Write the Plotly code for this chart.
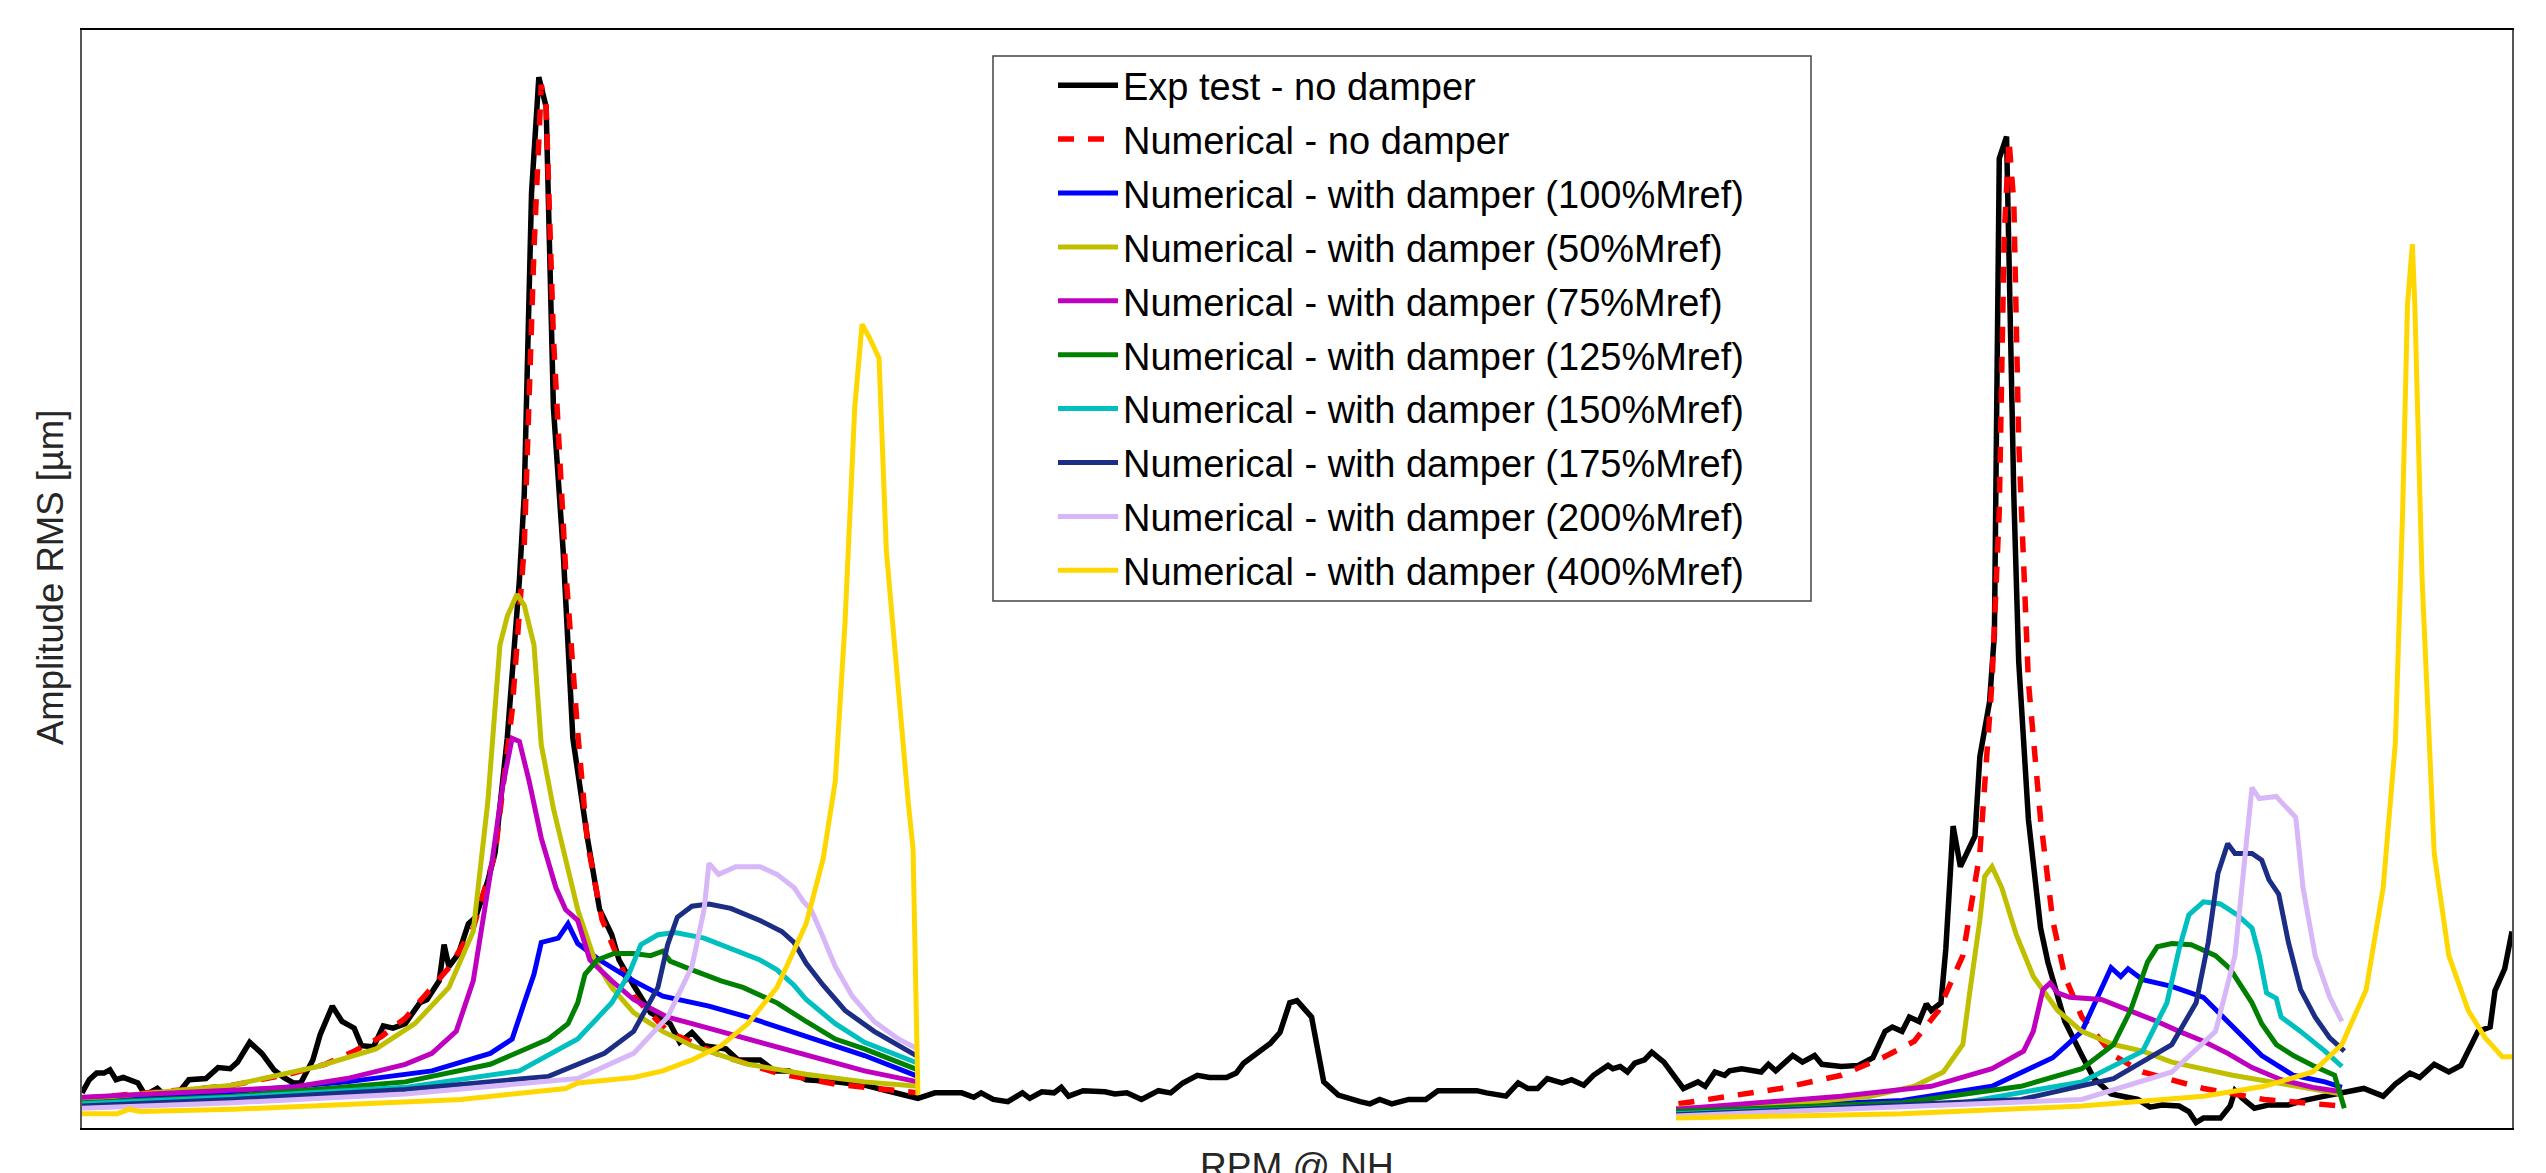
import plotly.graph_objects as go

# ---------------- data (arbitrary RPM units 0-100, amplitude units 0-100) ----------------
exp_x = [0, 0.3, 0.6, 0.9, 1.15, 1.4, 1.7, 2.1, 2.3, 2.6, 3.1, 3.3, 3.9, 4.4, 5.1, 5.6, 6.1, 6.4, 6.9,
         7.4, 7.9, 8.3, 8.7, 9.0, 9.5, 9.8, 10.3, 10.7, 11.2, 11.5, 12.0, 12.4, 12.8, 13.3, 13.9, 14.2,
         14.7, 14.9, 15.1, 15.5, 15.9, 16.2, 16.7, 17.0, 17.5, 18.0, 18.2, 18.5, 18.8, 19.1, 19.4, 19.8,
         20.2, 20.8, 21.3, 21.8, 22.1, 22.7, 23.4, 24.2, 24.6, 25.1, 25.6, 26.5, 27.0, 27.9, 28.5, 29.1,
         29.8, 31.0, 32.2, 33.3, 34.4, 35.1, 36.2, 36.7, 37.0, 37.5, 38.1, 38.7, 39.0, 39.5, 40.0, 40.3,
         40.6, 41.2, 42.1, 42.5, 43.0, 43.6, 44.3, 44.8, 45.3, 45.9, 46.4, 47.1, 47.5, 47.8, 48.4, 48.9,
         49.3, 49.7, 50.0, 50.6, 51.1, 51.7, 52.6, 53.0, 53.4, 53.9, 54.6, 55.3, 55.8, 56.7, 57.4, 57.8,
         58.6, 59.1, 59.5, 59.9, 60.3, 60.9, 61.3, 61.8, 62.2, 62.8, 63.0, 63.3, 63.6, 63.9, 64.3, 64.6,
         65.1, 65.9, 66.5, 66.8, 67.2, 67.6, 67.8, 68.3, 69.1, 69.4, 69.7, 70.4, 70.8, 71.3, 71.6, 72.4,
         73.1, 73.7, 74.2, 74.5, 74.9, 75.2, 75.6, 75.9, 76.1, 76.5, 76.7, 77.0, 77.3, 77.9, 78.1, 78.5,
         78.7, 78.9, 79.2, 79.5, 79.7, 80.1, 80.6, 80.9, 81.6, 82.3, 82.8, 83.5, 84.6, 85.1, 85.6, 86.3,
         86.7, 87.0, 87.3, 88.0, 88.4, 88.6, 88.9, 89.4, 90.0, 90.8, 91.4, 92.3, 93.1, 93.9, 94.7, 95.2,
         95.8, 96.2, 96.8, 97.4, 97.9, 98.6, 99.1, 99.3, 99.7, 100]
exp_y = [3.2, 4.4, 5.0, 5.0, 5.3, 4.4, 4.6, 4.2, 4.1, 3.0, 3.6, 3.2, 3.0, 4.4, 4.5, 5.5, 5.4, 6.0, 7.8,
         6.8, 5.3, 4.6, 4.1, 4.1, 6.2, 8.5, 11.1, 9.7, 9.1, 7.5, 7.4, 9.3, 9.1, 9.5, 11.4, 11.7,
         13.4, 16.7, 14.7, 15.9, 18.6, 19.2, 22.5, 25.1, 35.5, 49.9, 57.7, 85.2, 95.7, 93.0, 65.6, 52.6,
         35.5, 26.4, 19.9, 17.6, 15.3, 13.0, 10.5, 9.5, 7.8, 8.7, 7.5, 7.2, 6.2, 6.2, 5.2, 5.2,
         4.4, 4.2, 3.9, 3.3, 2.7, 3.2, 3.2, 2.8, 3.2, 2.6, 2.4, 3.2, 2.7, 3.3, 3.2, 3.7,
         2.9, 3.4, 3.3, 3.1, 3.2, 2.6, 3.4, 3.2, 4.1, 4.8, 4.6, 4.6, 5.0, 5.9, 6.9, 7.7,
         8.7, 11.4, 11.6, 10.1, 4.2, 3.0, 2.4, 2.2, 2.6, 2.2, 2.6, 2.6, 3.4, 3.4, 3.4, 3.2,
         2.9, 4.1, 3.6, 3.6, 4.5, 4.1, 4.4, 3.9, 4.8, 5.7, 5.4, 5.6, 5.1, 5.9, 6.2, 6.9,
         6.0, 3.6, 4.2, 3.8, 5.1, 4.8, 5.2, 5.4, 5.1, 5.8, 5.2, 6.6, 6.0, 6.6, 5.8, 5.6,
         5.7, 6.4, 8.8, 9.2, 8.8, 10.1, 9.7, 11.3, 10.7, 11.4, 16.3, 27.5, 23.8, 26.6, 33.8, 38.8,
         45.0, 88.3, 90.3, 57.5, 42.5, 28.1, 18.2, 15.1, 9.7, 6.6, 4.5, 3.1, 2.6, 1.9, 2.1, 2.0,
         1.5, 0.5, 0.9, 0.9, 2.0, 3.4, 2.7, 1.8, 2.1, 2.1, 2.5, 2.9, 3.3, 3.6, 2.9, 4.0,
         5.0, 4.6, 5.8, 5.1, 5.7, 8.8, 9.2, 12.5, 14.5, 17.9]

num_x = [0, 0.6, 2.1, 3.5, 4.9, 6.2, 7.4, 8.7, 10.0, 11.2, 12.3, 13.3, 14.2, 15.1, 16.1, 17.0, 17.7,
         18.2, 18.6, 18.9, 19.1, 19.4, 19.9, 20.4, 20.8, 21.4, 22.7, 24.1, 26.3, 28.6, 31.0, 34.4, None,
         65.7, 69.9, 72.4, 74.1, 75.4, 76.4, 77.4, 78.1, 78.6, 78.9, 79.1, 79.3, 79.5, 79.7, 80.1, 80.6,
         81.1, 81.6, 82.3, 83.6, 84.8, 87.3, 89.8, 93.0]
num_y = [2.6, 2.8, 3.1, 3.3, 3.6, 3.9, 4.4, 5.0, 5.8, 7.0, 8.3, 10.0, 12.3, 14.6, 18.2, 25.0, 38.0,
         53.0, 80.0, 95.0, 93.0, 72.0, 51.0, 36.0, 26.0, 19.0, 12.0, 8.8, 6.6, 5.0, 4.0, 3.2, None,
         2.2, 3.6, 4.8, 6.4, 7.9, 10.7, 15.7, 25.0, 40.6, 56.2, 81.1, 90.0, 84.2, 62.5, 40.6, 28.1,
         18.9, 13.8, 10.1, 6.6, 5.1, 3.6, 2.6, 2.0]

m100_x = [0, 6.2, 10.9, 14.4, 16.8, 17.7, 18.2, 18.6, 18.9, 19.6, 20.0, 20.4, 21.3, 22.7, 23.9, 25.1,
          25.8, 27.4, 29.8, 32.2, 34.4, None,
          65.6, 74.9, 78.6, 81.1, 82.3, 83.1, 83.5, 83.9, 84.2, 84.8, 86.0, 87.3, 88.0, 88.7, 89.7,
          91.0, 92.3, 93.0]
m100_y = [2.4, 3.3, 4.2, 5.2, 6.8, 8.1, 11.4, 14.0, 16.9, 17.3, 18.6, 16.8, 15.3, 13.4, 12.0, 11.4,
          11.1, 10.1, 8.3, 6.6, 4.7, None,
          1.6, 2.5, 3.8, 6.4, 8.8, 12.6, 14.6, 13.8, 14.5, 13.5, 12.9, 11.9, 10.4, 8.8, 6.6,
          4.8, 4.2, 3.7]

m50_x = [0, 6.2, 9.7, 12.1, 13.7, 15.1, 16.1, 16.7, 17.2, 17.5, 17.9, 18.2, 18.6, 18.9, 19.4, 19.9,
         20.4, 21.1, 21.8, 22.7, 23.9, 25.1, 27.4, 29.8, 32.2, 34.4, None,
         65.6, 69.9, 73.6, 75.4, 76.6, 77.4, 77.7, 78.1, 78.3, 78.6, 79.0, 79.6, 80.3, 81.3, 82.3,
         83.6, 84.8, 86.0, 88.5, 91.0, 93.0]
m50_y = [2.6, 3.9, 5.6, 7.2, 9.5, 12.8, 17.9, 29.7, 44.0, 46.6, 48.6, 47.6, 44.0, 34.9, 29.1, 24.5,
         19.9, 15.3, 12.8, 10.5, 8.8, 7.5, 5.8, 4.9, 4.2, 3.8, None,
         1.8, 2.1, 2.9, 3.8, 5.1, 7.6, 12.6, 18.9, 22.9, 23.8, 21.9, 17.6, 13.8, 10.7, 8.8,
         7.6, 7.0, 6.0, 4.8, 3.8, 3.1]

m75_x = [0, 8.6, 10.9, 13.3, 14.4, 15.4, 16.1, 16.8, 17.3, 17.7, 18.0, 18.4, 18.9, 19.5, 19.9, 20.4,
         20.9, 21.8, 22.7, 24.1, 25.1, 27.4, 29.8, 32.2, 34.4, None,
         65.6, 72.4, 76.1, 78.6, 79.9, 80.3, 80.7, 81.0, 81.3, 81.8, 83.1, 84.3, 85.4, 86.3, 87.3,
         88.3, 89.3, 90.5, 91.8, 93.0]
m75_y = [2.8, 3.7, 4.5, 5.8, 6.8, 8.8, 13.4, 23.1, 31.0, 35.5, 35.2, 31.6, 26.4, 21.9, 19.9, 18.9,
         15.3, 13.4, 11.7, 10.1, 9.5, 8.1, 6.6, 5.2, 4.2, None,
         1.7, 2.9, 3.8, 5.4, 7.0, 8.8, 12.6, 13.2, 12.3, 11.9, 11.7, 10.7, 9.7, 8.8, 7.9,
         6.8, 5.5, 4.4, 3.7, 3.3]

m125_x = [0, 6.2, 13.3, 16.8, 19.2, 20.0, 20.4, 20.7, 21.2, 21.9, 22.7, 23.4, 23.9, 24.2, 25.1, 26.3,
          27.2, 28.6, 29.8, 31.0, 32.2, 33.3, 34.4, None,
          65.6, 74.9, 79.8, 82.3, 83.6, 84.3, 85.0, 85.4, 86.0, 86.8, 87.8, 88.4, 89.3, 89.7, 90.3,
          91.0, 91.8, 92.7, 93.1]
m125_y = [2.3, 2.9, 4.2, 5.8, 8.1, 9.5, 11.4, 14.0, 15.3, 15.9, 15.9, 15.7, 16.1, 15.2, 14.4, 13.4,
          12.8, 11.4, 9.7, 8.1, 7.2, 6.2, 5.3, None,
          1.5, 2.3, 3.8, 5.4, 7.6, 10.7, 15.1, 16.5, 16.8, 16.7, 15.7, 14.5, 11.4, 9.5, 7.6,
          6.6, 5.7, 4.8, 1.8]

m150_x = [0, 6.2, 13.3, 18.0, 20.4, 21.8, 22.5, 23.0, 23.7, 24.4, 25.6, 26.7, 27.9, 28.6, 29.3, 29.8,
          31.0, 32.2, 33.3, 34.4, None,
          65.6, 77.4, 82.3, 84.8, 85.8, 86.3, 86.7, 87.3, 88.0, 88.7, 89.3, 89.6, 89.9, 90.3, 90.5,
          91.3, 92.3, 93.0]
m150_y = [2.2, 2.8, 3.7, 5.2, 8.1, 11.4, 14.0, 16.7, 17.6, 17.8, 17.3, 16.3, 15.3, 14.4, 13.0, 11.7,
          9.5, 7.8, 6.8, 5.9, None,
          1.3, 2.3, 4.2, 7.0, 11.4, 16.3, 19.4, 20.6, 20.4, 19.4, 18.2, 15.7, 12.3, 11.8, 10.1,
          8.8, 7.0, 5.6]

m175_x = [0, 6.2, 13.3, 19.2, 21.5, 22.7, 23.7, 24.1, 24.5, 25.1, 25.8, 26.7, 27.9, 28.8, 29.3, 29.8,
          30.5, 31.4, 32.6, 34.4, None,
          65.6, 79.8, 83.6, 86.0, 87.0, 87.5, 87.9, 88.3, 88.6, 89.3, 89.7, 90.0, 90.4, 90.8, 91.3,
          91.9, 92.5, 93.1]
m175_y = [2.0, 2.6, 3.5, 4.7, 6.8, 8.8, 12.8, 16.7, 19.2, 20.2, 20.4, 20.0, 18.9, 17.9, 16.9, 15.0,
          13.0, 10.7, 8.8, 6.5, None,
          1.2, 2.6, 4.5, 7.6, 11.4, 16.9, 23.2, 25.9, 25.0, 25.0, 24.4, 22.6, 21.3, 16.9, 12.6,
          10.1, 8.2, 7.0]

m200_x = [0, 6.2, 13.3, 20.4, 22.7, 24.1, 25.1, 25.6, 25.8, 26.2, 26.9, 27.9, 28.6, 29.3, 29.7, 30.0,
          30.4, 31.0, 31.7, 32.6, 33.6, 34.4, None,
          65.6, 82.3, 86.0, 87.8, 88.6, 89.0, 89.3, 89.6, 90.3, 90.5, 91.1, 91.4, 91.9, 92.5, 93.0]
m200_y = [1.8, 2.3, 3.1, 4.5, 6.8, 10.1, 14.7, 19.9, 24.1, 23.1, 23.8, 23.8, 23.1, 21.9, 20.6, 19.9,
          17.9, 14.7, 12.0, 9.7, 8.1, 7.2, None,
          1.1, 2.6, 5.1, 8.8, 15.7, 25.0, 31.0, 30.0, 30.2, 29.7, 28.3, 21.9, 15.7, 11.9, 9.7]

m400_x = [0, 1.44, 1.93, 2.4, 6.2, 10.9, 15.6, 19.9, 20.4, 22.7, 23.9, 25.1, 26.3, 27.4, 28.6, 29.8,
          30.5, 31.0, 31.4, 31.8, 32.1, 32.4, 32.8, 33.1, 33.6, 34.0, 34.2, 34.4, None,
          65.6, 74.9, 82.3, 87.3, 89.8, 91.8, 93.0, 94.0, 94.7, 95.2, 95.5, 95.7, 95.9, 96.0, 96.3,
          96.8, 97.4, 98.2, 98.9, 99.6, 100]
m400_y = [1.3, 1.3, 1.7, 1.5, 1.7, 2.2, 2.6, 3.6, 4.1, 4.6, 5.2, 6.2, 7.5, 9.5, 12.8, 18.6,
          24.5, 31.6, 46.0, 65.6, 73.2, 72.0, 70.1, 52.6, 39.4, 29.7, 25.4, 3.0, None,
          0.9, 1.3, 2.0, 2.9, 3.8, 5.1, 7.6, 12.6, 21.9, 35.1, 56.2, 75.0, 80.5, 75.0, 50.0,
          25.0, 15.7, 10.7, 8.2, 6.5, 6.5]

series = [
    ("Exp test - no damper", exp_x, exp_y, "#000000", "solid"),
    ("Numerical - no damper", num_x, num_y, "#FF0000", "16px,14px"),
    ("Numerical - with damper (100%Mref)", m100_x, m100_y, "#0000FF", "solid"),
    ("Numerical - with damper (50%Mref)", m50_x, m50_y, "#BFBF00", "solid"),
    ("Numerical - with damper (75%Mref)", m75_x, m75_y, "#BF00BF", "solid"),
    ("Numerical - with damper (125%Mref)", m125_x, m125_y, "#008000", "solid"),
    ("Numerical - with damper (150%Mref)", m150_x, m150_y, "#00BFBF", "solid"),
    ("Numerical - with damper (175%Mref)", m175_x, m175_y, "#1C2D86", "solid"),
    ("Numerical - with damper (200%Mref)", m200_x, m200_y, "#D8B7F8", "solid"),
    ("Numerical - with damper (400%Mref)", m400_x, m400_y, "#FFD700", "solid"),
]

FONT = "Liberation Sans, Arial, sans-serif"
W, H = 2546, 1173
ML, MR, MT, MB = 82, 34, 30, 45
PW, PH = W - ML - MR, H - MT - MB


def px_x(p):
    return (p - ML) / PW


def px_y(p):
    return (H - MB - p) / PH


fig = go.Figure()
for i, (name, xs, ys, col, dash) in enumerate(series):
    fig.add_trace(go.Scatter(
        x=xs, y=ys, mode="lines", name=name, legendgroup=f"g{i}",
        line=dict(color=col, width=5.5 if i < 2 else 5, dash=dash),
        connectgaps=False,
    ))

fig.update_layout(
    width=W, height=H,
    margin=dict(l=ML, r=MR, t=MT, b=MB, autoexpand=False),
    paper_bgcolor="white", plot_bgcolor="white",
    font=dict(family=FONT, color="#000000"),
    showlegend=True,
    legend=dict(
        x=px_x(1053), y=px_y(54), xanchor="left", yanchor="top",
        bgcolor="rgba(0,0,0,0)", borderwidth=0,
        font=dict(size=38, family=FONT, color="#000000"),
        itemwidth=60, traceorder="grouped", tracegroupgap=1.5,
    ),
    xaxis=dict(range=[0, 100], showticklabels=False, ticks="", showgrid=False, zeroline=False,
               showline=True, linecolor="#000000", linewidth=2, mirror=True, fixedrange=True),
    yaxis=dict(range=[0, 100], showticklabels=False, ticks="", showgrid=False, zeroline=False,
               showline=True, linecolor="#555555", linewidth=1.5, mirror=True, fixedrange=True),
    shapes=[dict(type="rect", xref="paper", yref="paper",
                 x0=px_x(993), x1=px_x(1811), y0=px_y(601), y1=px_y(56),
                 line=dict(color="#444444", width=1.5), fillcolor="white", layer="below")],
    annotations=[
        dict(text="RPM @ NH", xref="paper", yref="paper", x=0.5, y=px_y(1144),
             xanchor="center", yanchor="top", showarrow=False,
             font=dict(size=37, family=FONT, color="#262626")),
        dict(text="Amplitude RMS [µm]", xref="paper", yref="paper", x=px_x(50), y=px_y(578),
             xanchor="center", yanchor="middle", textangle=-90, showarrow=False,
             font=dict(size=36.5, family=FONT, color="#262626")),
    ],
)

fig.write_html(
    "out.html",
    config={"displayModeBar": False, "staticPlot": False},
    post_script="document.body.style.margin='0px';document.body.style.overflow='hidden';",
)
